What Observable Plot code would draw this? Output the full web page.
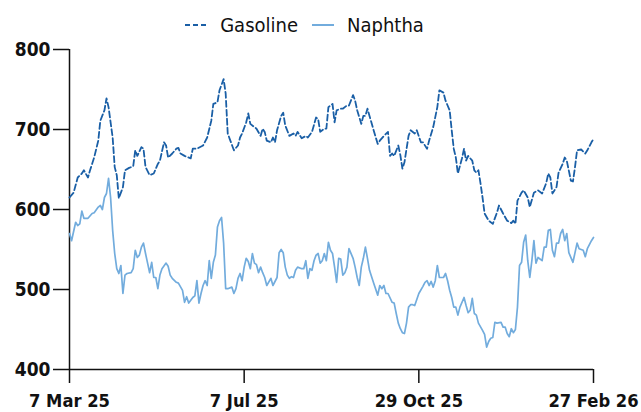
<!DOCTYPE html>
<html>
<head>
<meta charset="utf-8">
<script src="https://cdn.jsdelivr.net/npm/d3@7"></script>
<script src="https://cdn.jsdelivr.net/npm/@observablehq/plot@0.6"></script>
<style>
  html, body { margin: 0; padding: 0; background: #fff; }
  #wrap { width: 641px; height: 412px; font-family: "DejaVu Sans Condensed", "DejaVu Sans", sans-serif; }
  #legend { height: 40px; width: 641px; box-sizing: border-box; display: flex; align-items: center; justify-content: center; padding-right: 32px; padding-top: 10px; font-size: 20px; color: #111; }
  .item { display: flex; align-items: center; margin: 0 7px; }
  .item svg { margin-right: 13px; }
  #chart svg { overflow: visible; }
  #chart svg text { font-weight: bold; }
</style>
</head>
<body>
<div id="wrap">
  <div id="legend"></div>
  <div id="chart"></div>
</div>
<script>
// [trading-day index, value]
const gasoline = [[0,615],[2,621],[4,640],[6,645],[7,649],[9,640],[10,649],[12,665],[14,686],[15,711],[17,724],[18,739],[19,728],[21,690],[22,653],[23,643],[24,614],[26,628],[27,649],[29,652],[31,654],[32,674],[33,667],[35,678],[36,676],[37,653],[39,643],[41,645],[43,657],[44,661],[46,684],[47,680],[48,665],[50,670],[52,676],[53,677],[54,670],[56,667],[59,664],[60,676],[62,676],[65,680],[67,690],[69,711],[70,732],[72,734],[73,749],[75,763],[76,745],[77,695],[78,688],[80,674],[82,680],[83,690],[84,695],[86,709],[87,720],[88,707],[90,703],[91,701],[93,692],[94,701],[95,697],[96,686],[98,684],[99,690],[100,684],[101,699],[103,717],[104,721],[105,705],[107,692],[109,695],[110,692],[111,697],[113,689],[115,692],[116,690],[118,697],[120,715],[121,713],[122,697],[124,701],[125,701],[126,728],[128,732],[129,709],[130,724],[132,726],[133,726],[135,730],[136,730],[138,743],[139,736],[140,724],[142,707],[143,717],[144,717],[145,726],[146,717],[148,699],[150,682],[151,686],[153,692],[155,697],[156,667],[157,670],[158,667],[160,680],[161,668],[162,651],[163,659],[165,692],[166,699],[168,695],[169,699],[171,684],[172,684],[174,676],[175,686],[177,703],[179,728],[180,749],[182,746],[183,736],[185,724],[186,699],[187,676],[188,665],[189,645],[191,664],[192,676],[193,661],[194,667],[196,661],[197,649],[198,646],[199,649],[200,633],[201,615],[202,595],[204,586],[206,582],[208,596],[209,605],[211,595],[213,586],[215,583],[216,586],[217,582],[218,611],[220,621],[221,624],[223,615],[224,603],[226,621],[228,624],[230,620],[232,633],[233,645],[234,640],[235,620],[237,628],[238,646],[240,657],[241,665],[242,661],[244,636],[245,635],[246,653],[247,674],[249,675],[251,670],[252,674],[254,684],[255,688]];

const naphtha = [[0,570],[1,561],[3,584],[4,580],[5,582],[6,598],[7,589],[9,589],[11,595],[12,596],[14,603],[15,605],[16,600],[17,615],[18,620],[19,639],[20,615],[21,574],[22,545],[23,526],[24,520],[25,530],[26,495],[27,518],[28,520],[30,521],[31,526],[32,549],[33,540],[34,543],[35,553],[36,558],[37,545],[38,533],[39,521],[40,534],[41,515],[42,515],[43,501],[44,518],[45,526],[47,533],[48,529],[49,518],[50,514],[52,509],[53,508],[55,499],[56,484],[57,491],[58,483],[60,490],[61,492],[62,511],[63,483],[64,495],[65,505],[66,511],[67,505],[68,536],[69,514],[70,534],[71,543],[72,578],[73,586],[74,590],[75,558],[76,501],[77,501],[79,503],[80,495],[81,501],[82,514],[83,520],[84,511],[85,528],[86,539],[87,535],[88,526],[89,545],[90,533],[91,531],[92,521],[93,528],[94,521],[95,515],[96,505],[98,514],[99,505],[101,515],[102,546],[103,550],[104,546],[105,528],[106,518],[107,514],[108,516],[109,515],[110,524],[111,528],[113,526],[114,526],[115,536],[116,514],[117,526],[118,524],[119,536],[120,543],[121,545],[122,533],[123,536],[124,545],[125,536],[126,559],[127,549],[128,545],[129,528],[130,509],[131,539],[132,538],[133,518],[134,521],[135,528],[136,551],[138,539],[139,528],[140,515],[141,505],[142,528],[143,539],[144,553],[145,539],[146,524],[148,508],[150,493],[151,505],[152,501],[153,505],[154,495],[155,495],[157,484],[158,483],[159,470],[160,458],[161,451],[162,446],[163,445],[164,458],[165,478],[166,481],[167,481],[168,480],[170,495],[172,504],[173,509],[174,511],[175,505],[176,510],[177,503],[178,511],[179,530],[180,515],[182,515],[183,520],[184,511],[185,499],[186,490],[187,478],[188,478],[189,468],[190,478],[192,490],[193,480],[194,471],[195,474],[196,489],[197,470],[198,468],[199,458],[201,449],[202,444],[203,428],[204,435],[205,439],[206,440],[207,459],[208,458],[210,459],[211,453],[212,453],[213,445],[214,441],[215,451],[216,446],[217,450],[218,478],[219,530],[220,534],[221,559],[222,568],[223,536],[224,515],[225,536],[226,561],[227,533],[228,540],[230,536],[231,553],[232,553],[233,574],[234,575],[235,549],[236,541],[237,558],[238,558],[239,570],[240,575],[241,561],[242,570],[243,546],[245,534],[247,558],[248,551],[250,549],[251,541],[252,551],[254,561],[255,565]];

const tickDays = [0, 85, 170, 255];
const tickLabels = ["7 Mar 25", "7 Jul 25", "29 Oct 25", "27 Feb 26"];
const yTicks = [400, 500, 600, 700, 800];
const seriesNames = ["Gasoline", "Naphtha"];
const seriesColors = ["#1a5fa6", "#72acdd"];

const rows = [
  ...gasoline.map(([d, v]) => ({series: "Gasoline", day: d, value: v})),
  ...naphtha.map(([d, v]) => ({series: "Naphtha", day: d, value: v}))
];

// legend
const legend = document.getElementById("legend");
seriesNames.forEach((name, i) => {
  const item = document.createElement("div");
  item.className = "item";
  const dash = i === 0 ? 'stroke-dasharray="5,3"' : '';
  item.innerHTML = `<svg width="22" height="6"><line x1="0" y1="3" x2="22" y2="3" stroke="${seriesColors[i]}" stroke-width="2" ${dash}/></svg><span>${name}</span>`;
  legend.appendChild(item);
});

const chart = Plot.plot({
  width: 641,
  height: 372,
  marginTop: 9,
  marginBottom: 43,
  marginLeft: 69,
  marginRight: 48,
  style: {fontFamily: "'DejaVu Sans Condensed', 'DejaVu Sans', sans-serif", fontSize: "19px", color: "#111", background: "#fff", overflow: "visible"},
  x: {domain: [0, 255]},
  y: {domain: [400, 800]},
  marks: [
    Plot.axisY({ticks: yTicks, tickSize: 16, tickPadding: 3, label: null, fontWeight: "bold", strokeWidth: 1.5}),
    Plot.axisX({ticks: tickDays, tickFormat: (d) => tickLabels[tickDays.indexOf(d)], tickSize: 14, tickPadding: 11, label: null, fontWeight: "bold", fontSize: 18.2, strokeWidth: 1.5}),
    Plot.ruleX([0], {y1: 400, y2: 800, strokeWidth: 1.5, stroke: "#111"}),
    Plot.ruleY([400], {x1: 0, x2: 255, strokeWidth: 1.5, stroke: "#111"}),
    Plot.line(rows.filter(r => r.series === "Naphtha"), {x: "day", y: "value", stroke: seriesColors[1], strokeWidth: 1.7}),
    Plot.line(rows.filter(r => r.series === "Gasoline"), {x: "day", y: "value", stroke: seriesColors[0], strokeWidth: 1.8, strokeDasharray: "6,3"})
  ]
});
document.getElementById("chart").appendChild(chart);
</script>
</body>
</html>
